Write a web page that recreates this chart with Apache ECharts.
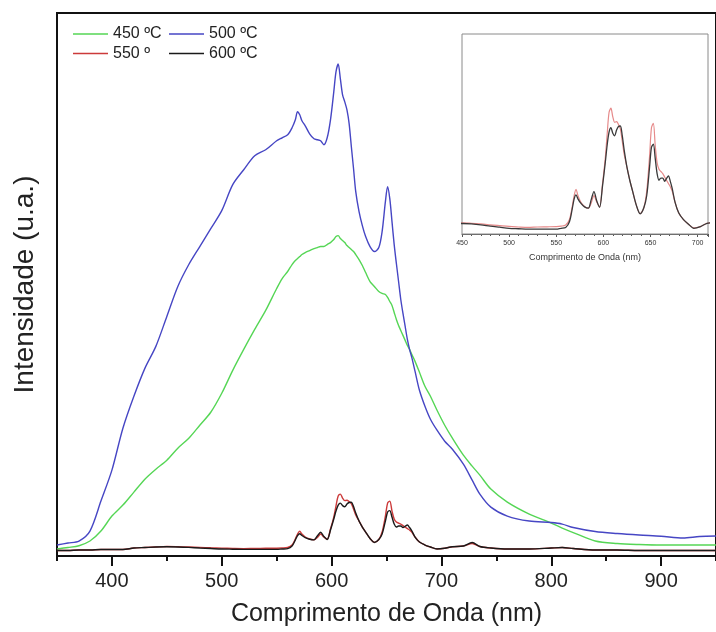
<!DOCTYPE html>
<html>
<head>
<meta charset="utf-8">
<script src="https://cdn.jsdelivr.net/npm/echarts@6/dist/echarts.min.js"></script>
<style>
  html, body { margin: 0; padding: 0; background: #fff; }
  #chart { width: 716px; height: 632px; }
</style>
</head>
<body>
<div id="chart"></div>
<script>
// Emission spectra of samples calcined at different temperatures (arbitrary units)
const wavelength = [350, 360, 370, 380, 390, 400, 410, 420, 430, 440, 450, 460, 470, 480, 490, 500, 510, 520, 530, 540, 550, 555, 560, 564, 567, 569, 571, 573, 576, 580, 584, 587, 590, 593, 596, 599, 602, 604, 606, 608, 610, 612, 614, 616, 618, 620, 622, 625, 628, 631, 635, 639, 643, 646, 649, 651, 653, 655, 657, 659, 661, 663, 665, 667, 669, 671, 673, 676, 680, 685, 690, 696, 703, 710, 720, 728, 735, 745, 760, 780, 800, 810, 820, 840, 860, 880, 900, 920, 935, 950];

const int450 = [7, 8.5, 10.3, 15, 25, 40, 51, 64, 77, 87, 96, 108, 118, 131, 144, 163, 186, 207, 227, 246, 268, 278, 285, 292, 296, 298, 300, 302, 304, 306, 308, 309, 310, 310, 312, 314, 317, 320, 321, 318, 316, 314, 311, 309, 307, 305, 302, 297, 291, 284, 275, 270, 265, 263, 262, 259, 255, 251, 244, 237, 231, 226, 221, 216, 211, 207, 202, 195, 184, 170, 160, 146, 131, 118, 101, 90, 81, 67, 54, 42, 33, 28, 23.5, 15, 12.5, 11.5, 11, 11, 11, 11];

const int500 = [11, 13, 15, 25, 55, 86, 128, 160, 188, 210, 240, 270, 292, 310, 328, 346, 372, 387, 401, 407, 416, 419, 422, 429, 437, 445, 442, 436, 431, 423, 418, 417, 416, 412, 419, 437, 465, 485, 493, 478, 462, 455, 447, 433, 410, 388, 365, 345, 331, 320, 310, 305, 309, 325, 355, 370, 358, 335, 312, 293, 275, 257, 243, 230, 217, 207, 199, 185, 166, 150, 137, 126, 115, 107, 92, 76, 62, 49, 40, 35, 33.5, 32, 28.5, 24.5, 22.5, 21, 19.8, 18, 19.5, 20];

const int550 = [5.5, 5.5, 6, 6, 6.5, 6.5, 6.5, 8, 8.5, 9, 9.5, 9.3, 9, 8.6, 8.2, 7.9, 7.6, 7.4, 7.6, 7.7, 7.8, 8, 8.5, 11, 17, 22, 24.8, 22, 19, 17, 16.2, 18.5, 22, 19, 16.8, 27, 39, 50, 60, 62, 58, 55.5, 55.8, 54.5, 52.5, 47, 41, 35, 29, 24, 17.5, 13.7, 16.5, 24, 40, 53, 55, 45, 37, 34, 33, 32, 30.5, 29, 27.5, 26, 24, 19, 14, 11, 9, 7.2, 7.8, 9.3, 10, 12.5, 9.5, 8, 7, 7, 8, 8.5, 7.5, 6, 6, 5.5, 5.5, 5.5, 5.5, 5.5];

const int600 = [5.5, 5.5, 6, 6, 6.5, 6.5, 6.5, 8, 8.5, 9, 9.2, 9, 8.6, 8, 7.5, 7, 6.8, 6.6, 6.6, 6.6, 6.6, 7, 7.4, 10, 16, 20.5, 22.3, 20.5, 18.5, 16.8, 16.2, 20, 23.8, 19.5, 16.6, 26, 37, 45, 51, 53, 50.5, 49.3, 52, 53.6, 53.8, 49.5, 43, 35, 29, 24, 17.5, 13.6, 16.5, 22, 35, 44, 45.5, 39, 32, 29, 30, 30, 28.5, 29.8, 31, 28.5, 25.3, 19, 14, 11, 9, 7, 7.8, 9.3, 10, 13.5, 9.5, 8, 7, 7, 8, 8.5, 7.5, 6, 6, 5.5, 5.5, 5.5, 5.5, 5.5];

const seriesNames = ['450 ºC', '500 ºC', '550 º', '600 ºC'];
const majorTicks = [400, 500, 600, 700, 800, 900];
const minorTicks = [350, 450, 550, 650, 750, 850, 950];

const pairs = vals => wavelength.map((w, i) => [w, vals[i]]);
const FONT = '"Liberation Sans", Arial, Helvetica, sans-serif';

const chart = echarts.init(document.getElementById('chart'), null, { renderer: 'canvas' });

const lineSeries = (name, vals, color, width, xi, z) => ({
  name, type: 'line', data: pairs(vals), xAxisIndex: xi, yAxisIndex: xi,
  showSymbol: false, symbol: 'none', smooth: 0.3, z,
  lineStyle: { color, width }, itemStyle: { color }, clip: true, animation: false
});

// legend entries drawn as short line segments, laid out in two columns
const legendColumn = (left, names) => ({
  left, top: 26, padding: 0, orient: 'vertical',
  icon: 'rect', itemWidth: 35, itemHeight: 1.6, itemGap: 3.5,
  data: names,
  textStyle: { fontFamily: FONT, fontSize: 16, lineHeight: 16, color: '#222' }
});

chart.setOption({
  backgroundColor: '#fff',
  animation: false,
  textStyle: { fontFamily: FONT },
  legend: [
    legendColumn(73, [seriesNames[0], seriesNames[2]]),
    legendColumn(169, [seriesNames[1], seriesNames[3]])
  ],
  grid: [
    { left: 57, top: 13, right: -11, bottom: 75, show: true, borderColor: '#111', borderWidth: 2, backgroundColor: 'transparent' },
    { left: 462, top: 34, width: 246, height: 200, show: true, borderColor: '#8a8a8a', borderWidth: 1, backgroundColor: '#fff', z: 5 }
  ],
  xAxis: [
    {
      gridIndex: 0, type: 'value', min: 350, max: 950,
      name: 'Comprimento de Onda (nm)', nameLocation: 'middle', nameGap: 46,
      nameTextStyle: { fontFamily: FONT, fontSize: 25, color: '#222' },
      axisLine: { show: true, onZero: false, lineStyle: { color: '#111', width: 2 } },
      axisTick: { show: true, customValues: majorTicks, length: 10, lineStyle: { color: '#111', width: 2 } },
      axisLabel: { customValues: majorTicks, fontFamily: FONT, fontSize: 20, color: '#222', margin: 15 },
      splitLine: { show: false }
    },
    {
      gridIndex: 0, type: 'value', min: 350, max: 950, position: 'bottom',
      axisLine: { show: false },
      axisTick: { show: true, customValues: minorTicks, length: 5, lineStyle: { color: '#111', width: 2 } },
      axisLabel: { show: false },
      splitLine: { show: false }
    },
    {
      gridIndex: 1, type: 'value', min: 450, max: 711, interval: 50,
      name: 'Comprimento de Onda (nm)', nameLocation: 'middle', nameGap: 19,
      nameTextStyle: { fontFamily: FONT, fontSize: 9, color: '#333' },
      axisLine: { show: true, onZero: false, lineStyle: { color: '#555', width: 1 } },
      axisTick: { show: true, length: 3, lineStyle: { color: '#555', width: 1 } },
      minorTick: { show: true, splitNumber: 5, length: 2, lineStyle: { color: '#555', width: 1 } },
      axisLabel: { fontFamily: FONT, fontSize: 7, color: '#333', margin: 6 },
      splitLine: { show: false }
    }
  ],
  yAxis: [
    {
      gridIndex: 0, type: 'value', min: 0, max: 544,
      name: 'Intensidade (u.a.)', nameLocation: 'middle', nameGap: 18,
      nameTextStyle: { fontFamily: FONT, fontSize: 28, color: '#222' },
      axisLine: { show: true, lineStyle: { color: '#111', width: 2 } },
      axisTick: { show: false }, axisLabel: { show: false }, splitLine: { show: false }
    },
    {
      gridIndex: 1, type: 'value', min: 4.4, max: 95.9,
      axisLine: { show: false }, axisTick: { show: false }, axisLabel: { show: false }, splitLine: { show: false }
    }
  ],
  series: [
    lineSeries(seriesNames[0], int450, '#55d655', 1.4, 0, 2),
    lineSeries(seriesNames[1], int500, '#4646c4', 1.4, 0, 2),
    lineSeries(seriesNames[2], int550, '#cc3a3a', 1.4, 0, 2),
    lineSeries(seriesNames[3], int600, '#1a1a1a', 1.4, 0, 2),
    Object.assign(lineSeries(seriesNames[2], int550, '#e68a8a', 1.2, 2, 6), { yAxisIndex: 1 }),
    Object.assign(lineSeries(seriesNames[3], int600, '#3a3a3a', 1.3, 2, 6), { yAxisIndex: 1 })
  ]
});
</script>
</body>
</html>
